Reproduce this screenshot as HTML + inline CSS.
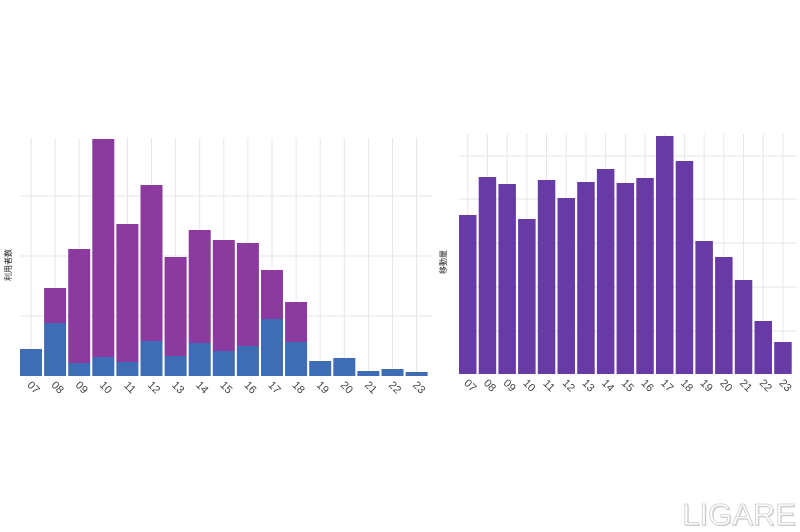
<!DOCTYPE html><html><head><meta charset="utf-8"><style>body{margin:0;background:#fff}svg{display:block}text{font-family:"Liberation Sans","Noto Sans CJK JP",sans-serif}</style></head><body>
<svg width="800" height="532" xmlns="http://www.w3.org/2000/svg">
<g stroke="#e6e6ea" stroke-width="1">
<line x1="20" y1="196" x2="432" y2="196"/><line x1="20" y1="256" x2="432" y2="256"/><line x1="20" y1="316" x2="432" y2="316"/>
<line x1="31" y1="138" x2="31" y2="376"/><line x1="55.1" y1="138" x2="55.1" y2="376"/><line x1="79.2" y1="138" x2="79.2" y2="376"/><line x1="103.3" y1="138" x2="103.3" y2="376"/><line x1="127.4" y1="138" x2="127.4" y2="376"/><line x1="151.5" y1="138" x2="151.5" y2="376"/><line x1="175.6" y1="138" x2="175.6" y2="376"/><line x1="199.7" y1="138" x2="199.7" y2="376"/><line x1="223.8" y1="138" x2="223.8" y2="376"/><line x1="247.9" y1="138" x2="247.9" y2="376"/><line x1="272" y1="138" x2="272" y2="376"/><line x1="296.1" y1="138" x2="296.1" y2="376"/><line x1="320.2" y1="138" x2="320.2" y2="376"/><line x1="344.3" y1="138" x2="344.3" y2="376"/><line x1="368.4" y1="138" x2="368.4" y2="376"/><line x1="392.5" y1="138" x2="392.5" y2="376"/><line x1="416.6" y1="138" x2="416.6" y2="376"/>
<line x1="459" y1="156" x2="797" y2="156"/><line x1="459" y1="199" x2="797" y2="199"/><line x1="459" y1="243" x2="797" y2="243"/><line x1="459" y1="287" x2="797" y2="287"/><line x1="459" y1="331" x2="797" y2="331"/>
<line x1="467.7" y1="134" x2="467.7" y2="374"/><line x1="487.4" y1="134" x2="487.4" y2="374"/><line x1="507.1" y1="134" x2="507.1" y2="374"/><line x1="526.8" y1="134" x2="526.8" y2="374"/><line x1="546.5" y1="134" x2="546.5" y2="374"/><line x1="566.2" y1="134" x2="566.2" y2="374"/><line x1="585.9" y1="134" x2="585.9" y2="374"/><line x1="605.6" y1="134" x2="605.6" y2="374"/><line x1="625.3" y1="134" x2="625.3" y2="374"/><line x1="645" y1="134" x2="645" y2="374"/><line x1="664.7" y1="134" x2="664.7" y2="374"/><line x1="684.4" y1="134" x2="684.4" y2="374"/><line x1="704.1" y1="134" x2="704.1" y2="374"/><line x1="723.8" y1="134" x2="723.8" y2="374"/><line x1="743.5" y1="134" x2="743.5" y2="374"/><line x1="763.2" y1="134" x2="763.2" y2="374"/><line x1="782.9" y1="134" x2="782.9" y2="374"/>
</g>
<g fill="#8b3a9e">
<rect x="44.1" y="288" width="22" height="35"/><rect x="68.2" y="249" width="22" height="114"/><rect x="92.3" y="139" width="22" height="218"/><rect x="116.4" y="224" width="22" height="138"/><rect x="140.5" y="185" width="22" height="156"/><rect x="164.6" y="257" width="22" height="99"/><rect x="188.7" y="230" width="22" height="113"/><rect x="212.8" y="240" width="22" height="111"/><rect x="236.9" y="243" width="22" height="103"/><rect x="261" y="270" width="22" height="49"/><rect x="285.1" y="302" width="22" height="40"/>
</g>
<g fill="#3f6db5">
<rect x="20" y="349" width="22" height="27"/><rect x="44.1" y="323" width="22" height="53"/><rect x="68.2" y="363" width="22" height="13"/><rect x="92.3" y="357" width="22" height="19"/><rect x="116.4" y="362" width="22" height="14"/><rect x="140.5" y="341" width="22" height="35"/><rect x="164.6" y="356" width="22" height="20"/><rect x="188.7" y="343" width="22" height="33"/><rect x="212.8" y="351" width="22" height="25"/><rect x="236.9" y="346" width="22" height="30"/><rect x="261" y="319" width="22" height="57"/><rect x="285.1" y="342" width="22" height="34"/><rect x="309.2" y="361" width="22" height="15"/><rect x="333.3" y="358" width="22" height="18"/><rect x="357.4" y="371" width="22" height="5"/><rect x="381.5" y="369" width="22" height="7"/><rect x="405.6" y="372" width="22" height="4"/>
</g>
<g fill="#673aa6">
<rect x="459" y="215" width="17.5" height="159"/><rect x="478.7" y="177" width="17.5" height="197"/><rect x="498.4" y="184" width="17.5" height="190"/><rect x="518.1" y="219" width="17.5" height="155"/><rect x="537.8" y="180" width="17.5" height="194"/><rect x="557.5" y="198" width="17.5" height="176"/><rect x="577.2" y="182" width="17.5" height="192"/><rect x="596.9" y="169" width="17.5" height="205"/><rect x="616.6" y="183" width="17.5" height="191"/><rect x="636.3" y="178" width="17.5" height="196"/><rect x="656" y="136" width="17.5" height="238"/><rect x="675.7" y="161" width="17.5" height="213"/><rect x="695.4" y="241" width="17.5" height="133"/><rect x="715.1" y="257" width="17.5" height="117"/><rect x="734.8" y="280" width="17.5" height="94"/><rect x="754.5" y="321" width="17.5" height="53"/><rect x="774.2" y="342" width="17.5" height="32"/>
</g>
<g font-size="11" fill="#444" text-anchor="middle">
<text transform="translate(31,390) rotate(45)">07</text><text transform="translate(55.1,390) rotate(45)">08</text><text transform="translate(79.2,390) rotate(45)">09</text><text transform="translate(103.3,390) rotate(45)">10</text><text transform="translate(127.4,390) rotate(45)">11</text><text transform="translate(151.5,390) rotate(45)">12</text><text transform="translate(175.6,390) rotate(45)">13</text><text transform="translate(199.7,390) rotate(45)">14</text><text transform="translate(223.8,390) rotate(45)">15</text><text transform="translate(247.9,390) rotate(45)">16</text><text transform="translate(272,390) rotate(45)">17</text><text transform="translate(296.1,390) rotate(45)">18</text><text transform="translate(320.2,390) rotate(45)">19</text><text transform="translate(344.3,390) rotate(45)">20</text><text transform="translate(368.4,390) rotate(45)">21</text><text transform="translate(392.5,390) rotate(45)">22</text><text transform="translate(416.6,390) rotate(45)">23</text>
<text transform="translate(467.7,388) rotate(45)">07</text><text transform="translate(487.4,388) rotate(45)">08</text><text transform="translate(507.1,388) rotate(45)">09</text><text transform="translate(526.8,388) rotate(45)">10</text><text transform="translate(546.5,388) rotate(45)">11</text><text transform="translate(566.2,388) rotate(45)">12</text><text transform="translate(585.9,388) rotate(45)">13</text><text transform="translate(605.6,388) rotate(45)">14</text><text transform="translate(625.3,388) rotate(45)">15</text><text transform="translate(645,388) rotate(45)">16</text><text transform="translate(664.7,388) rotate(45)">17</text><text transform="translate(684.4,388) rotate(45)">18</text><text transform="translate(704.1,388) rotate(45)">19</text><text transform="translate(723.8,388) rotate(45)">20</text><text transform="translate(743.5,388) rotate(45)">21</text><text transform="translate(763.2,388) rotate(45)">22</text><text transform="translate(782.9,388) rotate(45)">23</text>
</g>
<text transform="translate(11,265) rotate(-90)" font-size="8" fill="#222" text-anchor="middle">利用者数</text>
<text transform="translate(446,262) rotate(-90)" font-size="8" fill="#222" text-anchor="middle">移動量</text>
<text x="797" y="526" font-size="31" fill="#999" text-anchor="end" opacity="0.5">LIGARE</text>
<text x="796" y="525" font-size="31" fill="#fff" stroke="#ccc" stroke-width="0.8" text-anchor="end">LIGARE</text>
</svg>
</body></html>
